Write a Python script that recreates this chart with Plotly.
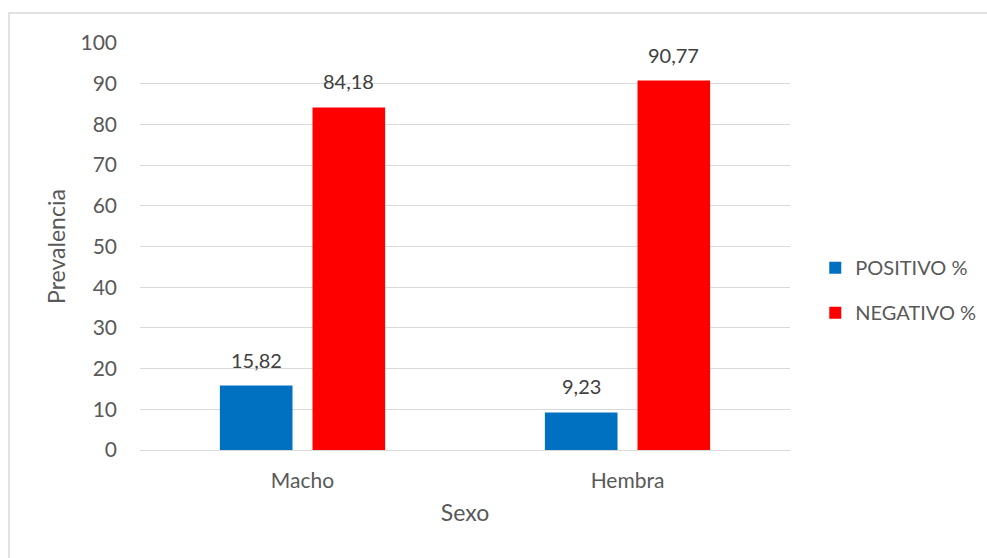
import plotly.graph_objects as go

categorias = ["Macho", "Hembra"]
positivo = [15.82, 9.23]
negativo = [84.18, 90.77]
series = ["POSITIVO %", "NEGATIVO %"]

def etiqueta(v):
    return f"{v:.2f}".replace(".", ",")

FONT = "Lato, 'Open Sans', sans-serif"
GRIS = "#595959"

fig = go.Figure()
anotaciones = []
for nombre, valores, color, grupo, desplazamiento in [
    (series[0], positivo, "#0070C0", "p", -46),
    (series[1], negativo, "#FF0000", "n", 46),
]:
    fig.add_trace(go.Bar(
        name=nombre, x=categorias, y=valores,
        marker=dict(color=color, line=dict(width=0)),
        legendgroup=grupo,
    ))
    for cat, v in zip(categorias, valores):
        anotaciones.append(dict(
            x=cat, y=v, xref="x", yref="y", text=etiqueta(v),
            showarrow=False, xshift=desplazamiento, yshift=26,
            font=dict(family=FONT, size=20, color="#404040"),
        ))

fig.update_layout(
    width=987, height=558,
    margin=dict(l=140, r=197, t=43, b=108),
    paper_bgcolor="white", plot_bgcolor="white",
    barmode="group", bargap=0.43, bargroupgap=0.216,
    font=dict(family=FONT, size=21, color=GRIS),
    showlegend=True,
    legend=dict(xref="container", yref="container", x=0.826, y=0.48,
                yanchor="middle", xanchor="left",
                tracegroupgap=16, font=dict(size=20, color=GRIS),
                itemwidth=30, bgcolor="rgba(0,0,0,0)"),
    xaxis=dict(title=dict(text="Sexo", font=dict(size=23, color=GRIS), standoff=13),
               showgrid=False, showline=False, ticks="",
               tickfont=dict(size=21, color=GRIS), ticklabelstandoff=16),
    yaxis=dict(title=dict(text="Prevalencia", font=dict(size=23, color=GRIS), standoff=8),
               range=[0, 100], dtick=10, showgrid=True, gridcolor="#D9D9D9",
               gridwidth=1.3, zeroline=True, zerolinecolor="#D9D9D9", zerolinewidth=1.3,
               showline=False, ticks="", tickfont=dict(size=21, color=GRIS),
               ticklabelstandoff=22),
    annotations=anotaciones,
    shapes=[dict(type="rect", xref="paper", yref="paper",
                 x0=-131/650, x1=1.4, y0=-0.6, y1=(450-13)/407,
                 line=dict(color="#D9D9D9", width=1.5), layer="below")],
)

fig.write_html("out.html")
